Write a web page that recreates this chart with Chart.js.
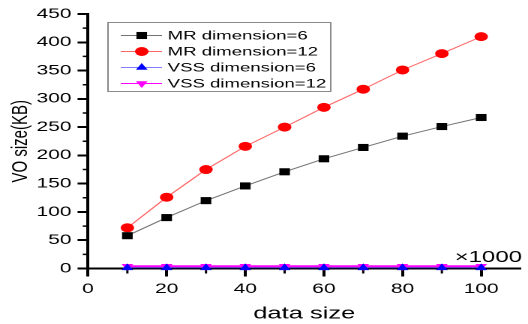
<!DOCTYPE html>
<html>
<head>
<meta charset="utf-8">
<script src="https://cdn.jsdelivr.net/npm/chart.js@4.4.0/dist/chart.umd.min.js"></script>
<style>
  html, body { margin: 0; padding: 0; background: #fff; }
  #wrap { width: 528px; height: 324px; overflow: hidden; position: relative; }
  /* the reference picture is stretched sideways, so the chart is drawn narrow and widened */
  #chart { position: absolute; left: 0; top: 0; transform: scaleX(1.5); transform-origin: 0 0; }
</style>
</head>
<body>
<div id="wrap"><canvas id="chart"></canvas></div>
<script>
// data (data size in thousands, VO size in KB)
var dataSizes = [10, 20, 30, 40, 50, 60, 70, 80, 90, 100];
var mrDim6 = [58, 90, 120, 146, 171, 194, 214, 234, 251, 267];
var mrDim12 = [72, 126, 175, 216, 250, 285, 317, 351, 380, 410];
var vssDim6 = [1.2, 1.2, 1.2, 1.2, 1.2, 1.2, 1.2, 1.2, 1.2, 1.2];
var vssDim12 = [4, 4, 4, 4, 4, 4, 4, 4, 4, 4];
var seriesNames = ['MR dimension=6', 'MR dimension=12', 'VSS dimension=6', 'VSS dimension=12'];
var xTicks = [0, 20, 40, 60, 80, 100];
var xMinorTicks = [10, 30, 50, 70, 90];
var yTicks = [0, 50, 100, 150, 200, 250, 300, 350, 400, 450];
var yMinorTicks = [25, 75, 125, 175, 225, 275, 325, 375, 425];

var FONT = 'Liberation Sans, Arial, sans-serif';

function pts(ys) {
  return dataSizes.map(function(x, i) { return {x: x, y: ys[i]}; });
}

// small marker drawer used by the legend
function drawMarker(ctx, ds, x, y) {
  var r = ds.pointRadius;
  ctx.save();
  ctx.fillStyle = ds.pointBackgroundColor;
  ctx.beginPath();
  if (ds.pointStyle === 'rect') {
    var s = r * Math.SQRT1_2;
    ctx.rect(x - s, y - s, 2 * s, 2 * s);
  } else if (ds.pointStyle === 'circle') {
    ctx.arc(x, y, r, 0, Math.PI * 2);
  } else {
    var rad = (ds.pointRotation || 0) * Math.PI / 180;
    for (var k = 0; k < 3; k++) {
      var a = rad + k * 2 * Math.PI / 3;
      var px = x + Math.sin(a) * r, py = y - Math.cos(a) * r;
      if (k === 0) ctx.moveTo(px, py); else ctx.lineTo(px, py);
    }
    ctx.closePath();
  }
  ctx.fill();
  ctx.restore();
}

var extras = {
  id: 'extras',
  beforeDatasetsDraw: function(chart) {
    // shorter minor ticks
    var ctx = chart.ctx, xs = chart.scales.x, ys = chart.scales.y;
    ctx.save();
    ctx.strokeStyle = '#000';
    ctx.lineWidth = 1.5;
    ctx.beginPath();
    xMinorTicks.forEach(function(v) {
      var px = xs.getPixelForValue(v);
      ctx.moveTo(px, xs.top);
      ctx.lineTo(px, xs.top + 5);
    });
    yMinorTicks.forEach(function(v) {
      var py = ys.getPixelForValue(v);
      ctx.moveTo(ys.right, py);
      ctx.lineTo(ys.right - 3.5, py);
    });
    ctx.stroke();
    ctx.restore();
  },
  afterDraw: function(chart) {
    var ctx = chart.ctx;
    ctx.save();
    // legend box
    ctx.strokeStyle = '#8a8a8a';
    ctx.lineWidth = 1;
    ctx.strokeRect(72, 22.5, 148.5, 69);
    ctx.font = '12.4px ' + FONT;
    ctx.textBaseline = 'middle';
    ctx.textAlign = 'left';
    chart.data.datasets.forEach(function(ds, i) {
      var y = 35.5 + i * 16;
      ctx.strokeStyle = ds.borderColor;
      ctx.lineWidth = 1;
      ctx.beginPath();
      ctx.moveTo(80.5, y);
      ctx.lineTo(108, y);
      ctx.stroke();
      drawMarker(ctx, ds, 94.5, y);
      ctx.fillStyle = '#000';
      ctx.fillText(ds.label, 111.8, y + 0.5);
    });
    // multiplier for the x axis
    ctx.font = '16px ' + FONT;
    ctx.textAlign = 'right';
    ctx.textBaseline = 'alphabetic';
    ctx.fillStyle = '#000';
    ctx.fillText('\u00d71000', 348, 262);
    ctx.restore();
  }
};

var ctx = document.getElementById('chart');
ctx.width = 352;
ctx.height = 324;

new Chart(ctx, {
  type: 'line',
  data: {
    datasets: [
      {
        label: seriesNames[0],
        data: pts(mrDim6),
        borderColor: 'rgba(0,0,0,0.55)',
        borderWidth: 1,
        pointStyle: 'rect',
        pointRadius: 5,
        pointBackgroundColor: '#000',
        pointBorderWidth: 0,
        clip: false
      },
      {
        label: seriesNames[1],
        data: pts(mrDim12),
        borderColor: 'rgba(255,0,0,0.6)',
        borderWidth: 1,
        pointStyle: 'circle',
        pointRadius: 4.5,
        pointBackgroundColor: '#ff0000',
        pointBorderWidth: 0,
        clip: false
      },
      {
        label: seriesNames[2],
        data: pts(vssDim6),
        borderColor: 'rgba(0,0,255,0.5)',
        borderWidth: 1,
        pointStyle: 'triangle',
        pointRadius: 4.5,
        pointBackgroundColor: '#0000ff',
        pointBorderWidth: 0,
        clip: false
      },
      {
        label: seriesNames[3],
        data: pts(vssDim12),
        borderColor: '#ff00ff',
        borderWidth: 2,
        pointStyle: 'triangle',
        pointRotation: 180,
        pointRadius: 4.5,
        pointBackgroundColor: '#ff00ff',
        pointBorderWidth: 0,
        clip: false
      }
    ]
  },
  options: {
    responsive: false,
    devicePixelRatio: 2,
    animation: false,
    layout: { padding: { top: 14, right: 0, bottom: 0, left: 0 } },
    plugins: {
      legend: { display: false },
      tooltip: { enabled: false }
    },
    scales: {
      x: {
        type: 'linear',
        min: 0,
        max: 110,
        afterBuildTicks: function(s) { s.ticks = xTicks.map(function(v) { return {value: v}; }); },
        afterFit: function(s) { s.height = 55.5; },
        border: { display: true, color: '#000', width: 2 },
        grid: { display: true, drawOnChartArea: false, drawTicks: true, tickLength: 8, tickWidth: 2, tickColor: '#000' },
        ticks: { color: '#000', font: { family: FONT, size: 14 }, padding: 4, maxRotation: 0, autoSkip: false },
        title: { display: true, text: 'data size', color: '#000', font: { family: FONT, size: 17 }, padding: { top: 0, bottom: 0 } }
      },
      y: {
        type: 'linear',
        min: 0,
        max: 450,
        afterBuildTicks: function(s) { s.ticks = yTicks.map(function(v) { return {value: v}; }); },
        afterFit: function(s) { s.width = 58.7; },
        border: { display: true, color: '#000', width: 2 },
        grid: { display: true, drawOnChartArea: false, drawTicks: true, tickLength: 7, tickWidth: 2, tickColor: '#000' },
        ticks: { color: '#000', font: { family: FONT, size: 14 }, padding: 4, autoSkip: false },
        title: { display: true, text: 'VO size(KB)', color: '#000', font: { family: FONT, size: 15 }, padding: { top: 5, bottom: 5 } }
      }
    }
  },
  plugins: [extras]
});
</script>
</body>
</html>
